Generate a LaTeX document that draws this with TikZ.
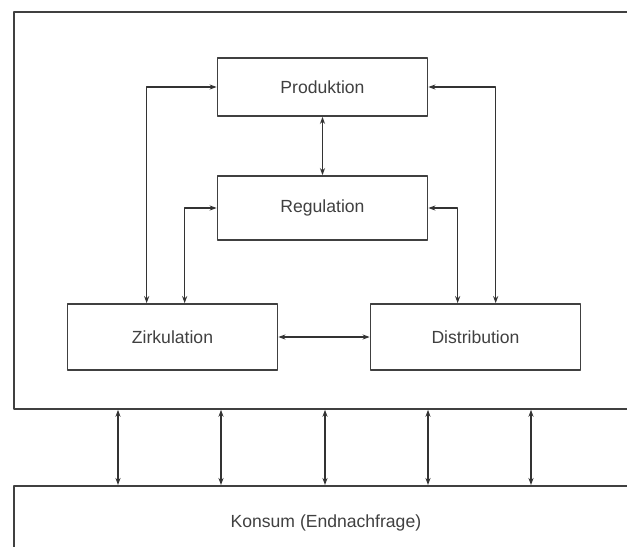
\documentclass[tikz,border=0pt]{standalone}
\usepackage{fontspec}
\usetikzlibrary{arrows.meta}
\setsansfont{Liberation Sans}
\begin{document}
\begin{tikzpicture}[x=0.025cm, y=-0.025cm, >={Stealth[length=5pt,width=3.6pt]}, line join=round,
		font=\sffamily\fontsize{12.5}{14}\selectfont,
		box/.style={draw=black!75, line width=1.2pt, fill=white, inner sep=0pt, text=black!75},
		sector/.style={box, minimum width=5.25cm, minimum height=1.55cm},
		link/.style={<->, draw=black!80, line width=1pt}]
	\useasboundingbox (0,0) rectangle (627,547);
	\clip (0,0) rectangle (627,547);

	% Rahmen und Konsum
	\node[box, minimum width=16.5cm, minimum height=9.925cm, anchor=north west] (system) at (13,11) {};
	\node[box, minimum width=15.6cm, minimum height=1.85cm, anchor=north west] (konsum) at (13,485) {Konsum (Endnachfrage)};

	% Sektoren
	\node[sector, minimum height=1.45cm] (prod) at (322.5,87) {Produktion};
	\node[sector, minimum height=1.6cm] (reg) at (322.5,208) {Regulation};
	\node[sector, minimum height=1.65cm] (zirk) at (172.5,337) {Zirkulation};
	\node[sector, minimum height=1.65cm] (dist) at (475.5,337) {Distribution};

	\draw[link] (prod.west) -| ([xshift=2cm]zirk.north west);
	\draw[link] (prod.east) -| ([xshift=3.15cm]dist.north west);
	\draw[link] (prod.south) -- (reg.north);
	\draw[link] (reg.west) -| ([xshift=2.95cm]zirk.north west);
	\draw[link] (reg.east) -| ([xshift=2.2cm]dist.north west);
	\draw[link] (zirk.east) -- (dist.west);

	\foreach \x in {105,208,312,415,518} {
		\draw[link] ([xshift=\x*0.025cm]system.south west) -- ([xshift=\x*0.025cm]konsum.north west);
	}
\end{tikzpicture}
\end{document}
